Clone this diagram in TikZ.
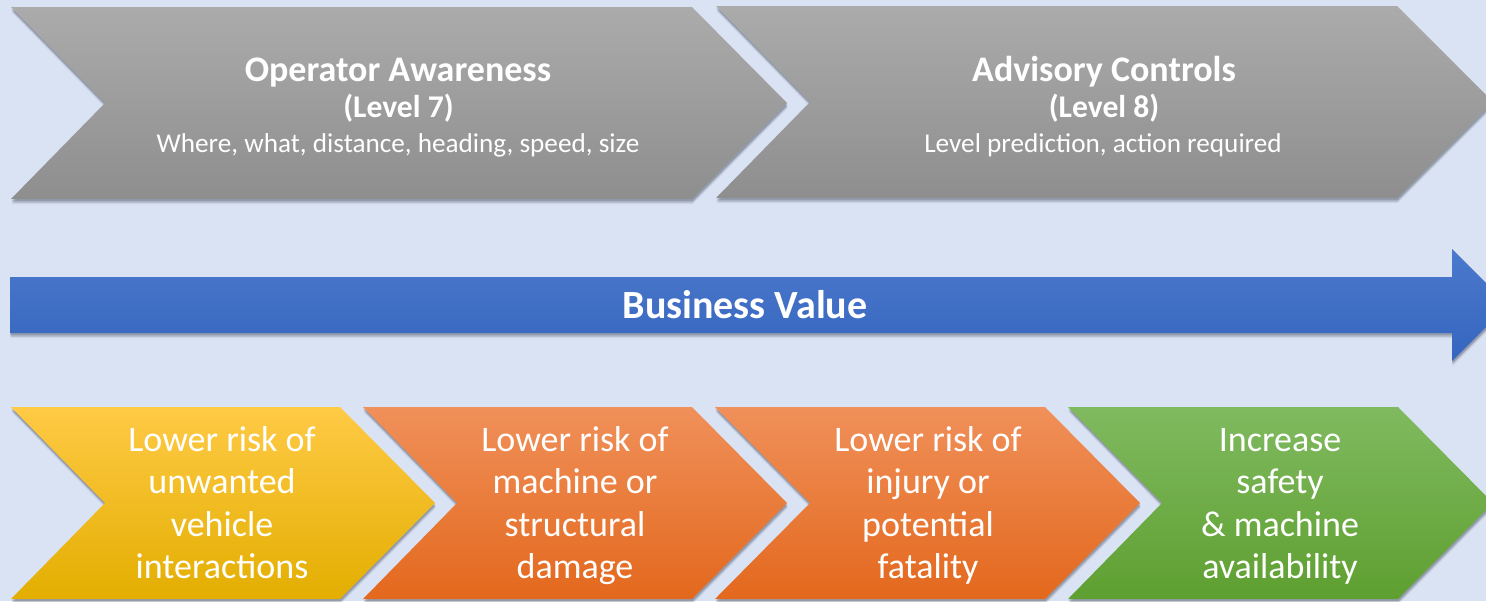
\documentclass[tikz,border=0pt]{standalone}
\usepackage{fontspec}
\setmainfont{Carlito}
\usetikzlibrary{shadows}
\definecolor{bg}{HTML}{DAE3F3}
\definecolor{grayT}{HTML}{ABABAB}
\definecolor{grayB}{HTML}{8E8E8E}
\definecolor{blueT}{HTML}{4B79CB}
\definecolor{blueB}{HTML}{3565BF}
\definecolor{yelT}{HTML}{FFCA45}
\definecolor{yelM}{HTML}{FFC000}
\definecolor{yelB}{HTML}{E3AE00}
\definecolor{orT}{HTML}{F0905A}
\definecolor{orM}{HTML}{F47E2E}
\definecolor{orB}{HTML}{E3681D}
\definecolor{grT}{HTML}{80BA60}
\definecolor{grM}{HTML}{70AD47}
\definecolor{grB}{HTML}{5E9F30}
\definecolor{shadc}{HTML}{30364A}
\begin{document}
\begin{tikzpicture}[x=0.5pt,y=-0.5pt,
  softshadow/.style={
    drop shadow={shadow xshift=0.3pt,shadow yshift=-2.6pt,opacity=0.08,fill=shadc},
    drop shadow={shadow xshift=0.3pt,shadow yshift=-1.9pt,opacity=0.14,fill=shadc},
    drop shadow={shadow xshift=0.2pt,shadow yshift=-1.2pt,opacity=0.25,fill=shadc}},
  graychev/.style={softshadow, top color=grayT, bottom color=grayB},
  bluearrow/.style={softshadow, top color=blueT, bottom color=blueB},
  yelchev/.style={softshadow, top color=yelT, middle color=yelM, bottom color=yelB},
  orchev/.style={softshadow, top color=orT, middle color=orM, bottom color=orB},
  grchev/.style={softshadow, top color=grT, middle color=grM, bottom color=grB},
  titletext/.style={text=white, font=\fontsize{18}{21}\selectfont\bfseries, inner sep=0pt},
  leveltext/.style={text=white, font=\fontsize{15.8}{18}\selectfont\bfseries, inner sep=0pt},
  subtext/.style={text=white, font=\fontsize{13.6}{16}\selectfont, inner sep=0pt},
  bvtext/.style={text=white, font=\fontsize{20}{24}\selectfont\bfseries, inner sep=0pt},
  bottext/.style={text=white, font=\fontsize{18}{21.5}\selectfont, inner sep=0pt, anchor=base},
]
\useasboundingbox (0,0) rectangle (1486,601);
\fill[bg] (0,0) rectangle (1486,601);
\clip (0,0) rectangle (1486,601);

% top chevrons
\path[graychev] (11,7) -- (692,7) -- (787,103) -- (692,199) -- (11,199) -- (105,103) -- cycle;
\path[graychev] (716,6) -- (1397,6) -- (1493,102) -- (1397,198) -- (716,198) -- (810,102) -- cycle;

% business value arrow
\path[bluearrow] (10,277) -- (1452,277) -- (1452,249) -- (1508,305) -- (1452,361) -- (1452,333) -- (10,333) -- cycle;

% bottom chevrons
\path[yelchev] (11,407) -- (340,407) -- (435,503) -- (340,599) -- (11,599) -- (105,503) -- cycle;
\path[orchev] (363,407) -- (692,407) -- (787,503) -- (692,599) -- (363,599) -- (457,503) -- cycle;
\path[orchev] (715,407) -- (1045,407) -- (1140,503) -- (1045,599) -- (715,599) -- (810,503) -- cycle;
\path[grchev] (1068,407) -- (1398,407) -- (1493,503) -- (1398,599) -- (1068,599) -- (1162,503) -- cycle;

% top texts
\node[titletext, anchor=base] (oa) at (398,81) {Operator Awareness};
\node[leveltext, anchor=base] (l7) at (398.5,117) {(Level 7)};
\node[subtext, anchor=base] (w7) at (398,152) {Where, what, distance, heading, speed, size};
\node[titletext, anchor=base] (ac) at (1104,81) {Advisory Controls};
\node[leveltext, anchor=base] (l8) at (1104,117) {(Level 8)};
\node[subtext, anchor=base] (w8) at (1103,152) {Level prediction, action required};

% business value
\node[bvtext, anchor=base] (bv) at (745,318) {Business Value};

% bottom texts
\node[bottext] (a1) at (222,451) {Lower risk of};
\node[bottext] (a2) at (222,493) {unwanted};
\node[bottext] (a3) at (222,536) {vehicle};
\node[bottext] (a4) at (222,578) {interactions};
\node[bottext] (b1) at (575,451) {Lower risk of};
\node[bottext] (b2) at (575,493) {machine or};
\node[bottext] (b3) at (575,536) {structural};
\node[bottext] (b4) at (575,578) {damage};
\node[bottext] (c1) at (928,451) {Lower risk of};
\node[bottext] (c2) at (928,493) {injury or};
\node[bottext] (c3) at (928,536) {potential};
\node[bottext] (c4) at (928,578) {fatality};
\node[bottext] (d1) at (1280,451) {Increase};
\node[bottext] (d2) at (1280,493) {safety};
\node[bottext] (d3) at (1280,536) {\& machine};
\node[bottext] (d4) at (1280,578) {availability};
\end{tikzpicture}
\end{document}
